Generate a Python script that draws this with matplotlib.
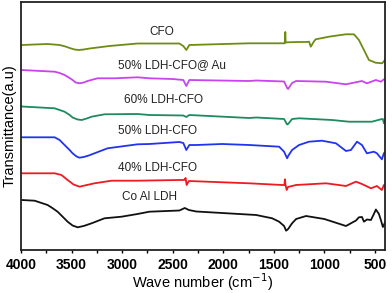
import matplotlib
matplotlib.use('Agg')
import matplotlib.pyplot as plt
from matplotlib.ticker import MultipleLocator

plt.rcParams['font.family'] = ['Liberation Sans', 'DejaVu Sans']

# FTIR spectra (transmittance in arbitrary units)
cfo_wn = [4000, 3993, 3737, 3618, 3560, 3519, 3470, 3430, 3380, 3322, 3125, 2848, 2434,
          2395, 2365, 2335, 1743, 1674, 1392, 1386, 1382, 1365, 1250, 1180, 1151, 1134,
          1100, 1085, 954, 789, 707, 658, 608, 559, 493, 428, 400]
cfo_t = [204.5, 205, 206, 205, 203.5, 202, 200.5, 200, 200.5, 201.5, 204, 206.5, 206.5,
         204, 200, 205, 206.7, 206.7, 206.7, 218, 207.5, 207.7, 208, 208, 208.3, 203.3,
         209, 210.7, 213.3, 215.7, 215.7, 210, 200, 190, 187.3, 186.7, 190]

au_wn = [4000, 3993, 3667, 3618, 3569, 3519, 3490, 3460, 3420, 3380, 3342, 3243, 3075,
         2848, 2730, 2503, 2395, 2365, 2335, 1743, 1674, 1398, 1368, 1358, 1319, 1279,
         983, 786, 628, 579, 490, 441, 411, 400]
au_t = [180, 180, 178.3, 177, 175, 172, 170, 167.5, 166.7, 167.5, 169, 171.7, 171.7,
        172.7, 171.7, 171, 170, 164, 170, 169, 169.5, 168.5, 162, 161, 167, 169,
        168.3, 165.7, 169, 166.7, 170, 168.3, 170.7, 170]

ldh60_wn = [4000, 3993, 3667, 3618, 3569, 3519, 3490, 3440, 3400, 3350, 3302, 3174, 2848,
            2730, 2395, 2365, 2335, 1743, 1674, 1398, 1368, 1358, 1319, 1250, 924, 757,
            529, 441, 421, 411, 400]
ldh60_t = [144, 143.5, 141.7, 140, 138.3, 135, 132.5, 130.5, 130, 131.5, 133.3, 135.7, 136,
           135, 134.5, 133, 135, 132, 132.5, 131, 125.5, 126, 131, 131.7, 130, 128.3,
           128.3, 130.7, 131, 126.7, 130]

ldh50_wn = [4000, 3993, 3667, 3618, 3569, 3519, 3490, 3450, 3421, 3380, 3330, 3273, 3144,
            2848, 2730, 2434, 2395, 2365, 2335, 2266, 2010, 1743, 1447, 1398, 1368, 1358,
            1319, 1250, 1151, 1023, 885, 786, 737, 677, 628, 579, 510, 480, 431, 411, 400]
ldh50_t = [113, 112.7, 112.7, 110, 105, 100, 96.7, 93.5, 92.3, 93, 94.5, 96.7, 101.7,
           105.7, 106, 108, 107, 100, 105, 105, 106, 105, 103.3, 98.3, 91.7, 94,
           100, 105, 108.3, 109.3, 106.7, 99, 100, 108.3, 105, 96.7, 98.3, 96.7, 90.7,
           96.7, 98]

ldh40_wn = [4000, 3993, 3667, 3600, 3539, 3480, 3421, 3370, 3273, 3105, 2848, 2434, 2385,
            2372, 2362, 2340, 1743, 1418, 1395, 1389, 1384, 1372, 1360, 1279, 983, 786,
            687, 628, 539, 480, 431, 411, 400]
ldh40_t = [77, 76.7, 76.7, 75, 70, 65.5, 63.3, 64.5, 66.7, 69.3, 69.3, 70, 70,
           72, 65, 69, 66.7, 65, 65, 70.7, 65, 60, 63, 65, 66.7, 64,
           68.3, 66, 61.7, 64, 60, 65, 64]

coal_wn = [4000, 3993, 3865, 3737, 3690, 3638, 3590, 3539, 3490, 3440, 3380, 3302, 3174,
           3006, 2848, 2730, 2434, 2380, 2340, 2266, 2010, 1674, 1516, 1447, 1398, 1378,
           1358, 1319, 1279, 1181, 1000, 786, 687, 658, 628, 608, 579, 539, 510, 490, 460,
           441, 421, 406, 400]
coal_t = [50, 50, 49.3, 45, 42, 38.3, 33.5, 28.3, 24.5, 22.7, 24, 26.7, 31.7,
          33.3, 36, 38.3, 39.5, 42, 40, 38.5, 37, 35, 31.7, 28.3, 24, 19.3,
          21, 26.7, 31, 34, 31, 24, 29.5, 32.7, 33, 28.3, 30.5, 30, 36, 40.5, 36,
          30, 23, 26, 28]

series = [
    (cfo_wn, cfo_t, '#6e8c14', 'CFO', 162, 31.7),
    (au_wn, au_t, '#c844ee', '50% LDH-CFO@ Au', 172, 65),
    (ldh60_wn, ldh60_t, '#1f8a5e', '60% LDH-CFO', 163, 100),
    (ldh50_wn, ldh50_t, '#2233ee', '50% LDH-CFO', 158, 131),
    (ldh40_wn, ldh40_t, '#ee1a22', '40% LDH-CFO', 158, 168.3),
    (coal_wn, coal_t, '#111111', 'Co Al LDH', 149.5, 196.7),
]

fig = plt.figure(figsize=(3.92, 2.93), dpi=100)
ax = fig.add_axes([21 / 392, 43 / 293, 364 / 392, 248 / 293])

for wn, t, col, lab, lx, ly in series:
    ax.plot(wn, t, color=col, lw=1.3, solid_joinstyle='round')
    # label positions given in pixels of the reference figure
    ax.text(lx / 392, 1 - ly / 293, lab, transform=fig.transFigure,
            ha='center', va='center', fontsize=8.5, color='#222222')

ax.set_xlim(4000, 400)
ax.set_ylim(0, 248)
ax.set_yticks([])
ax.xaxis.set_major_locator(MultipleLocator(500))
ax.xaxis.set_minor_locator(MultipleLocator(250))
ax.tick_params(axis='x', which='major', direction='out', length=2.5, width=1, pad=3,
               labelsize=10)
ax.tick_params(axis='x', which='minor', direction='out', length=1.8, width=1)
for lbl in ax.get_xticklabels():
    lbl.set_fontweight('bold')
for sp in ax.spines.values():
    sp.set_linewidth(1.3)
    sp.set_color('#222222')

ax.set_xlabel('Wave number (cm$^{-1}$)', fontsize=10.5, labelpad=0)
ax.set_ylabel('Transmittance(a.u)', fontsize=10.5, labelpad=3)

fig.savefig('out.png', dpi=100)
